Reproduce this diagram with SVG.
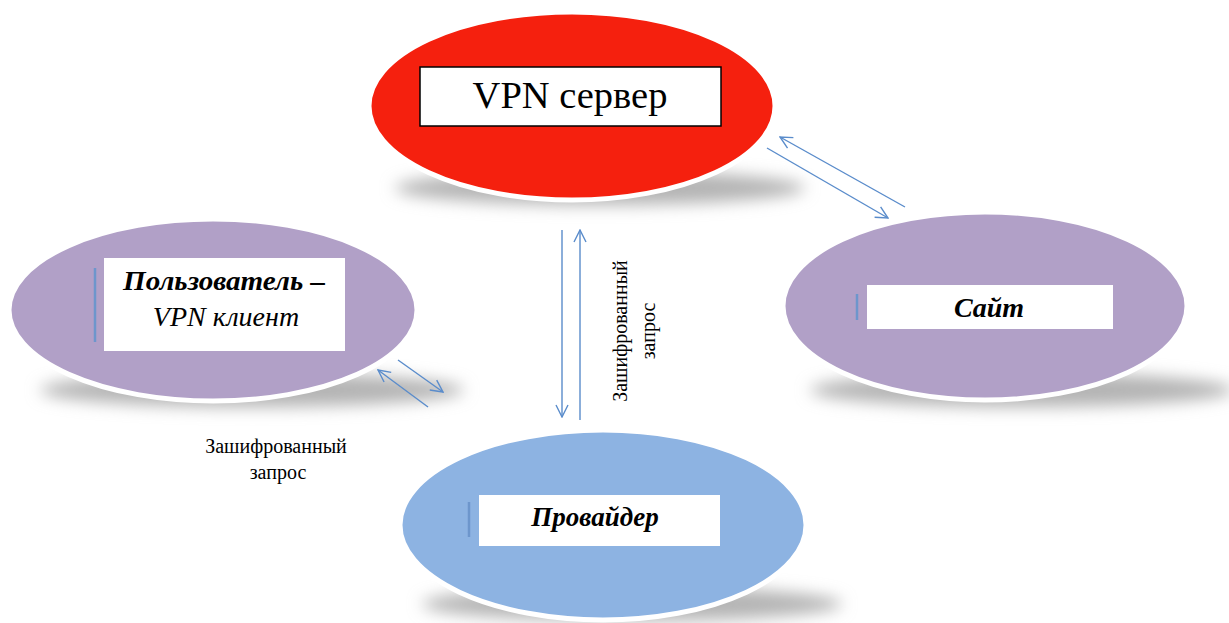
<svg xmlns="http://www.w3.org/2000/svg" width="1229" height="623" viewBox="0 0 1229 623">
<defs>
<style>
.lbl{font-family:"Liberation Serif","DejaVu Serif",serif;fill:#000}
.bi{font-weight:bold;font-style:italic}
.it{font-style:italic}
.small{font-family:"Liberation Serif","DejaVu Serif",serif;font-size:20px;fill:#000}
.box{fill:#fff}
.conn{stroke:#5a8ccb;stroke-width:1.4;fill:none}
.tick{stroke:#6d96cc;stroke-width:2.5}
.shadow{fill:#b4b4b4;filter:url(#blur)}
.ell{stroke:#fff;stroke-width:5}
</style>
<filter id="blur" x="-30%" y="-100%" width="160%" height="300%"><feGaussianBlur stdDeviation="8"/></filter>
<marker id="ah" viewBox="0 0 14 14" refX="13" refY="7" markerWidth="14" markerHeight="14" markerUnits="userSpaceOnUse" orient="auto">
<path d="M1,1 L13,7 L1,13" fill="none" stroke="#5a8ccb" stroke-width="1.4"/>
</marker>
</defs>
<rect width="1229" height="623" fill="#fff"/>

<g id="shadows">
<ellipse class="shadow" cx="600" cy="188" rx="205" ry="17"/>
<ellipse class="shadow" cx="252" cy="390" rx="212" ry="17"/>
<ellipse class="shadow" cx="1022" cy="390" rx="212" ry="17"/>
<ellipse class="shadow" cx="632" cy="604" rx="210" ry="17"/>
</g>

<g id="vpn-server">
<ellipse class="ell" cx="572" cy="106" rx="203" ry="94" fill="#f5200e"/>
<rect x="420" y="67" width="301" height="59" class="box" stroke="#000" stroke-width="1.5"/>
<text class="lbl" x="570" y="108" font-size="38.5" text-anchor="middle">VPN сервер</text>
</g>

<g id="user">
<ellipse class="ell" cx="213" cy="310" rx="204" ry="91" fill="#b1a0c7"/>
<rect x="104" y="258" width="241" height="93" class="box"/>
<line class="tick" x1="95" y1="268" x2="95" y2="342"/>
<text class="lbl bi" x="224" y="290" font-size="28" text-anchor="middle" textLength="202" lengthAdjust="spacingAndGlyphs">Пользователь –</text>
<text class="lbl it" x="226" y="326" font-size="28" text-anchor="middle">VPN клиент</text>
</g>

<g id="site">
<ellipse class="ell" cx="985" cy="306" rx="202" ry="94" fill="#b1a0c7"/>
<rect x="867" y="285" width="246" height="44" class="box"/>
<line class="tick" x1="857" y1="294" x2="857" y2="320"/>
<text class="lbl bi" x="989" y="317" font-size="28" text-anchor="middle">Сайт</text>
</g>

<g id="provider">
<ellipse class="ell" cx="603" cy="525" rx="203" ry="95" fill="#8db3e2"/>
<rect x="479" y="495" width="241" height="51" class="box"/>
<line class="tick" x1="469" y1="502" x2="469" y2="537"/>
<text class="lbl bi" x="595" y="526" font-size="27" text-anchor="middle">Провайдер</text>
</g>

<g id="connectors">
<line class="conn" x1="562" y1="230" x2="562" y2="417" marker-end="url(#ah)"/>
<line class="conn" x1="580" y1="420" x2="580" y2="230" marker-end="url(#ah)"/>
<line class="conn" x1="398" y1="360" x2="443" y2="392" marker-end="url(#ah)"/>
<line class="conn" x1="428" y1="407" x2="378" y2="370" marker-end="url(#ah)"/>
<line class="conn" x1="767" y1="148" x2="888" y2="218" marker-end="url(#ah)"/>
<line class="conn" x1="905" y1="207" x2="780" y2="137" marker-end="url(#ah)"/>
</g>

<g id="labels">
<text class="small" transform="translate(627,331) rotate(-90)" text-anchor="middle">Зашифрованный</text>
<text class="small" transform="translate(655,331) rotate(-90)" text-anchor="middle">запрос</text>
<text class="small" x="276" y="453" text-anchor="middle">Зашифрованный</text>
<text class="small" x="278" y="479" text-anchor="middle">запрос</text>
</g>
</svg>
